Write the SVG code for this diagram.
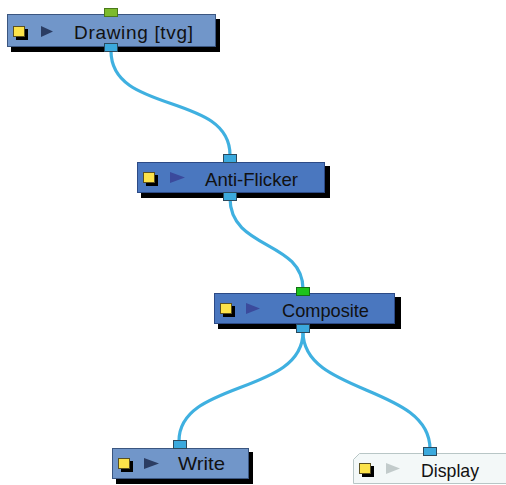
<svg xmlns="http://www.w3.org/2000/svg" width="506" height="485" viewBox="0 0 506 485">
<style>
.shadow{fill:#000}
.light{fill:#7196c9;stroke:#3b5680;stroke-width:1}
.dark{fill:#4a77bf;stroke:#2c4a86;stroke-width:1}
.disp{fill:#f3f8f8;stroke:#b8c6c6;stroke-width:1}
.ysh{fill:#000}
.ysq{fill:#fce34a;stroke:#5a5020;stroke-width:1}
.tri1{fill:#2b3d63}
.tri2{fill:#3b4a9c}
.tri3{fill:#c2cbcb}
.lbl{font-family:"Liberation Sans",Arial,sans-serif;font-size:19px;fill:#111}
.port{fill:#3ba9dd;stroke:#2b4a5e;stroke-width:1}
.pg1{fill:#7cbb2c;stroke:#4a7a1a;stroke-width:1}
.pg2{fill:#1dc41d;stroke:#127012;stroke-width:1}
.wire{fill:none;stroke:#3fb0e0;stroke-width:3.2;stroke-linecap:round}
</style>
<rect width="506" height="485" fill="#fff"/>
<g id="connectors">
<path class="wire" d="M111,51 C111,115 230,92 230,155"/>
<path class="wire" d="M230,198 C230,250 303,240 303,289"/>
<path class="wire" d="M303,332 C303,395 179,380 179,441"/>
<path class="wire" d="M303,332 C303,395 430,385 430,449"/>
</g>
<g id="node-drawing">
<rect class="shadow" x="11" y="19" width="209" height="33"/>
<rect class="light" x="7.5" y="14.5" width="208" height="32"/>
<rect class="pg1" x="104.5" y="8.5" width="13" height="8"/>
<rect class="port" x="104.5" y="43.5" width="13" height="8"/>
<rect class="ysh" x="16" y="29" width="12" height="11"/>
<rect class="ysq" x="13.5" y="26.5" width="11" height="10"/>
<polygon class="tri1" points="41,26 53,31.5 41,37"/>
<text class="lbl" x="74" y="39" textLength="119" lengthAdjust="spacing">Drawing [tvg]</text>
</g>
<g id="node-antiflicker">
<rect class="shadow" x="141" y="166" width="189" height="32"/>
<rect class="dark" x="137.5" y="162.5" width="187" height="30"/>
<rect class="port" x="223.5" y="154.5" width="13" height="8"/>
<rect class="port" x="223.5" y="192.5" width="13" height="8"/>
<rect class="ysh" x="146" y="175" width="12" height="11"/>
<rect class="ysq" x="143.5" y="172.5" width="11" height="10"/>
<polygon class="tri2" points="170,172 185,177.5 170,183"/>
<text class="lbl" x="205" y="186" textLength="93" lengthAdjust="spacingAndGlyphs">Anti-Flicker</text>
</g>
<g id="node-composite">
<rect class="shadow" x="218" y="297" width="183" height="32"/>
<rect class="dark" x="214.5" y="293.5" width="180" height="30"/>
<rect class="pg2" x="296.5" y="287.5" width="13" height="8"/>
<rect class="port" x="296.5" y="324.5" width="13" height="8"/>
<rect class="ysh" x="223" y="306" width="12" height="11"/>
<rect class="ysq" x="220.5" y="303.5" width="11" height="10"/>
<polygon class="tri2" points="246,303 260,308.5 246,314"/>
<text class="lbl" x="282" y="317" textLength="87" lengthAdjust="spacingAndGlyphs">Composite</text>
</g>
<g id="node-write">
<rect class="shadow" x="116" y="452" width="137" height="32"/>
<rect class="light" x="112.5" y="448.5" width="136" height="30"/>
<rect class="port" x="173.5" y="440.5" width="13" height="8"/>
<rect class="ysh" x="121" y="461" width="12" height="11"/>
<rect class="ysq" x="118.5" y="458.5" width="11" height="10"/>
<polygon class="tri1" points="144,458 159,463.5 144,469"/>
<text class="lbl" x="178" y="470" textLength="47" lengthAdjust="spacingAndGlyphs">Write</text>
</g>
<g id="node-display">
<path class="disp" d="M507,453.5 L359.5,453.5 L353.5,459.5 L353.5,483.5 L507,483.5"/>
<rect class="port" x="423.5" y="447.5" width="13" height="8"/>
<rect class="ysh" x="362" y="466" width="12" height="11"/>
<rect class="ysq" x="359.5" y="463.5" width="11" height="10"/>
<polygon class="tri3" points="386,463 400,468.5 386,474"/>
<text class="lbl" x="421" y="477" textLength="58" lengthAdjust="spacingAndGlyphs">Display</text>
</g>
</svg>
